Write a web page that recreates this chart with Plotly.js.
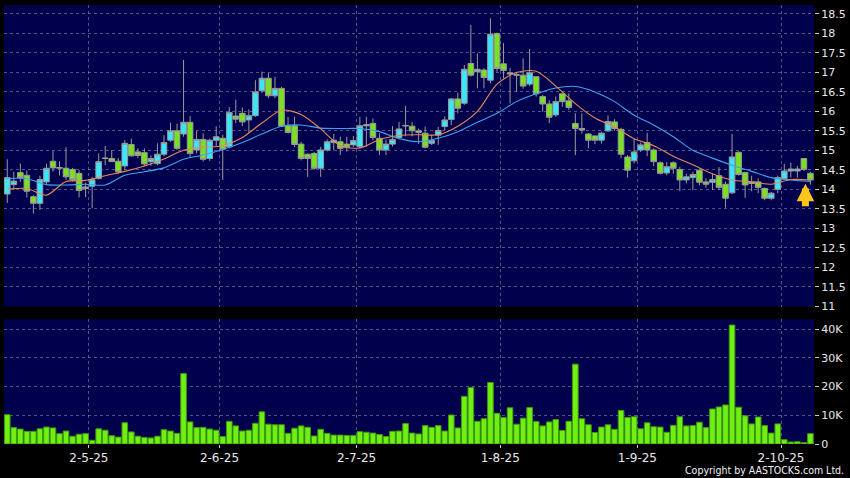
<!DOCTYPE html>
<html>
<head>
<meta charset="utf-8">
<script src="https://cdn.plot.ly/plotly-3.0.1.min.js"></script>
<style>
html,body{margin:0;padding:0;background:#000;}
#chart{width:850px;height:478px;}
</style>
</head>
<body>
<div id="chart"></div>
<script>
// ---- Data (daily candles, Apr–Oct 2025) ----
const opens = [
13.88,14.12,14.43,14.36,13.81,13.64,14.19,14.72,14.54,14.54,
14.51,14.41,14.02,14.08,14.28,14.79,14.79,14.72,14.60,15.15,
14.96,14.94,14.71,14.66,14.90,15.26,15.50,15.42,15.72,15.01,
15.28,14.79,15.26,15.31,15.09,15.88,15.95,15.78,15.89,16.53,
16.85,16.40,16.59,15.63,15.63,15.16,14.90,14.92,14.54,15.01,
15.20,15.22,15.16,15.14,15.09,15.66,15.69,15.31,15.01,15.16,
15.33,15.64,15.62,15.50,15.44,15.18,15.39,15.61,15.79,16.32,
16.21,17.23,17.02,17.06,16.80,18.00,17.22,16.99,16.93,16.93,
16.70,16.89,16.38,16.19,15.91,16.45,16.27,15.69,15.56,15.42,
15.37,15.26,15.50,15.73,15.54,14.83,14.73,15.01,15.20,15.01,
14.68,14.42,14.68,14.51,14.24,14.30,14.49,14.19,14.18,14.35,
14.13,13.91,14.95,14.43,14.19,14.19,14.02,13.77,14.00,14.28,
14.47,14.47,14.79,14.41];
const highs = [
14.77,14.45,14.66,14.48,13.85,14.35,14.66,14.99,14.72,15.08,
14.55,14.49,14.17,14.32,14.92,15.11,15.01,14.80,15.26,15.30,
15.05,15.05,14.87,15.18,15.39,15.71,15.69,17.32,15.88,15.50,
15.44,15.30,15.62,15.40,16.11,16.30,16.10,16.05,16.80,17.02,
16.99,16.89,16.63,15.86,15.86,15.22,14.92,14.96,15.09,15.28,
15.42,15.35,15.35,15.37,15.86,15.86,15.82,15.44,15.28,15.62,
15.73,16.14,15.73,15.56,15.61,15.40,15.60,15.87,16.34,16.48,
17.19,18.22,17.49,17.11,18.39,18.02,17.75,17.11,17.02,17.36,
17.60,16.89,16.42,16.29,16.38,16.46,16.46,15.95,15.95,15.44,
15.37,15.48,15.90,15.80,15.58,14.88,15.30,15.20,15.45,15.05,
14.72,14.70,14.72,14.58,14.40,14.45,14.53,14.28,14.40,14.57,
14.20,15.42,14.97,14.45,14.35,14.28,14.05,13.93,14.35,14.65,
14.68,14.60,14.80,14.45];
const lows = [
13.65,13.98,14.19,13.79,13.38,13.47,14.11,14.45,14.35,14.24,
14.20,13.79,13.80,13.52,14.25,14.62,14.70,14.40,14.50,14.84,
14.80,14.60,14.60,14.62,14.85,15.22,15.01,15.35,14.83,14.92,
14.71,14.73,15.10,14.24,15.05,15.70,15.62,15.46,15.86,16.47,
16.34,16.34,15.60,15.43,15.09,14.74,14.32,14.50,14.32,14.97,
15.00,14.88,14.97,15.09,15.05,15.09,15.26,14.88,14.88,15.10,
15.30,15.36,15.36,15.16,15.05,15.14,15.14,15.52,15.65,15.95,
16.17,16.89,16.59,16.59,16.72,17.02,16.85,16.20,16.50,16.58,
16.65,16.38,15.99,15.70,15.86,16.12,16.04,14.88,15.43,15.05,
15.16,15.17,15.47,15.50,14.80,14.30,14.66,14.96,14.85,14.60,
14.38,14.36,14.40,13.95,14.15,13.98,14.10,14.04,13.98,13.98,
13.53,13.88,14.35,13.78,13.95,13.90,13.72,13.72,13.90,14.25,
14.30,14.30,14.47,14.12];
const closes = [
14.30,14.21,14.30,13.95,13.64,14.25,14.54,14.55,14.56,14.32,
14.25,13.97,14.06,14.25,14.71,14.80,14.71,14.45,15.18,14.86,
14.87,14.65,14.79,14.90,15.20,15.50,15.05,15.72,14.92,15.28,
14.77,15.26,15.35,15.03,15.97,15.80,15.73,15.89,16.50,16.85,
16.40,16.59,15.62,15.46,15.15,14.79,14.79,14.54,15.01,15.22,
15.26,15.05,15.08,15.25,15.63,15.63,15.33,15.01,15.16,15.28,
15.55,15.63,15.50,15.46,15.08,15.25,15.51,15.78,16.32,16.08,
17.08,16.93,17.08,16.87,17.98,17.10,17.05,16.96,16.94,16.65,
16.99,16.45,16.19,15.85,16.25,16.25,16.10,15.56,15.52,15.26,
15.26,15.44,15.74,15.56,14.90,14.49,14.96,15.14,15.01,14.71,
14.41,14.58,14.54,14.24,14.32,14.38,14.18,14.13,14.25,14.05,
13.77,14.83,14.38,14.11,14.15,14.05,13.77,13.90,14.30,14.47,
14.52,14.52,14.51,14.24];
const volumesK = [
10.2,5.7,5.2,4.4,4.4,5.3,5.9,5.6,3.6,4.5,
2.7,3.4,3.6,1.3,5.3,4.8,2.9,2.4,7.4,4.2,
2.7,2.3,2.1,2.7,5.0,4.5,3.7,24.5,7.7,5.7,
5.8,5.2,4.8,2.6,7.9,6.3,4.5,4.8,7.2,11.2,
6.9,6.7,6.7,3.7,5.5,6.3,5.8,2.8,5.1,3.7,
3.1,3.1,3.0,3.0,4.3,4.1,3.8,3.3,2.6,4.4,
4.5,7.1,3.8,3.5,6.4,5.8,6.4,4.5,10.1,5.6,
16.6,19.7,7.9,8.8,21.4,10.7,9.2,12.6,6.9,9.0,
12.7,7.8,6.3,7.7,8.5,4.7,7.9,27.8,8.8,6.7,
4.0,5.9,6.7,5.1,11.7,9.2,9.5,5.3,7.4,6.0,
5.9,4.1,6.5,9.5,6.3,6.4,7.6,5.7,12.2,12.9,
13.6,41.4,12.8,9.8,7.0,9.4,6.4,3.8,7.0,1.5,
0.7,0.8,0.5,3.6];

const maIdx  = [0,3,6,9,12,15,18,21,24,27,30,33,36,39,42,45,48,51,54,57,60,63,66,69,72,75,78,81,84,87,90,93,96,99,102,105,108,111,114,117,120,123];
const maFast = [14.00,14.02,13.85,14.20,14.23,14.35,14.46,14.60,14.78,15.00,15.08,15.12,15.33,15.70,16.03,15.92,15.55,15.12,15.06,15.28,15.38,15.40,15.40,15.62,16.00,16.70,17.00,17.03,16.65,16.20,15.83,15.60,15.30,15.12,14.85,14.63,14.40,14.24,14.19,14.13,14.25,14.24];
const maSlow = [14.28,14.27,14.12,14.11,14.13,14.11,14.36,14.45,14.55,14.77,14.88,15.02,15.20,15.42,15.62,15.65,15.57,15.56,15.56,15.48,15.30,15.22,15.31,15.48,15.72,15.95,16.25,16.45,16.60,16.64,16.50,16.25,15.90,15.65,15.35,15.00,14.80,14.62,14.46,14.30,14.24,14.20];

// Month boundaries (index of first trading day of the month) and labels
const monthStartIdx = [13, 33, 54, 76, 97, 119];
const monthLabels = ['2-5-25','2-6-25','2-7-25','1-8-25','1-9-25','2-10-25'];
const volTickVals = [0, 10000, 20000, 30000, 40000];
const volTickText = ['0','10K','20K','30K','40K'];

// ---- Build chart ----
const idx = opens.map((_, i) => i);
const gridTicks = monthStartIdx.map(i => i - 0.5);
const last = opens.length - 1;

const gridColor = 'rgba(150,150,185,0.55)';
const axisFont = {family: 'DejaVu Sans, sans-serif', size: 11, color: '#e8e8e8'};

const traces = [
  {
    type: 'candlestick', x: idx, open: opens, high: highs, low: lows, close: closes,
    xaxis: 'x', yaxis: 'y', whiskerwidth: 0,
    increasing: {fillcolor: '#3ae6fa', line: {color: '#9a9a9a', width: 1}},
    decreasing: {fillcolor: '#78e21e', line: {color: '#9a9a9a', width: 1}},
    hoverinfo: 'skip'
  },
  {
    type: 'scatter', mode: 'lines', x: maIdx, y: maSlow, xaxis: 'x', yaxis: 'y',
    line: {color: '#3fa2f0', width: 1.1, shape: 'spline', smoothing: 0.8}, hoverinfo: 'skip'
  },
  {
    type: 'scatter', mode: 'lines', x: maIdx, y: maFast, xaxis: 'x', yaxis: 'y',
    line: {color: '#e3895a', width: 1.1, shape: 'spline', smoothing: 0.8}, hoverinfo: 'skip'
  },
  {
    type: 'bar', x: idx, y: volumesK.map(v => v * 1000), xaxis: 'x2', yaxis: 'y2',
    marker: {color: '#70f012', line: {color: '#3d9a0c', width: 1}}, hoverinfo: 'skip'
  }
];

const layout = {
  width: 850, height: 478,
  paper_bgcolor: '#000000', plot_bgcolor: '#00004c',
  margin: {l: 4, r: 36, t: 5, b: 34},
  showlegend: false, hovermode: false,
  boxgap: 0.14, boxgroupgap: 0, bargap: 0.14,
  font: axisFont,
  xaxis: {
    domain: [0, 1], anchor: 'y', range: [-0.5, 123.55],
    tickmode: 'array', tickvals: gridTicks, ticktext: monthLabels,
    showticklabels: false, ticks: '',
    showgrid: true, gridcolor: gridColor, griddash: 'dot', gridwidth: 1,
    zeroline: false, showline: false, rangeslider: {visible: false}
  },
  yaxis: {
    domain: [0.313, 1], anchor: 'x', side: 'right', range: [10.99, 18.73],
    tick0: 11, dtick: 0.5, ticks: 'outside', ticklen: 4, tickcolor: '#cccccc',
    showgrid: true, gridcolor: gridColor, griddash: 'dot', gridwidth: 1,
    zeroline: false, showline: false, tickfont: axisFont
  },
  xaxis2: {
    domain: [0, 1], anchor: 'y2', matches: 'x',
    tickmode: 'array', tickvals: gridTicks, ticktext: monthLabels,
    ticks: 'outside', ticklen: 3, tickcolor: '#cccccc',
    showgrid: true, gridcolor: gridColor, griddash: 'dot', gridwidth: 1,
    zeroline: false, showline: false,
    tickfont: {family: 'DejaVu Sans, sans-serif', size: 12, color: '#e8e8e8'}
  },
  yaxis2: {
    domain: [0, 0.284], anchor: 'x2', side: 'right', range: [0, 43400],
    tickmode: 'array', tickvals: volTickVals, ticktext: volTickText,
    ticks: 'outside', ticklen: 4, tickcolor: '#cccccc',
    showgrid: true, gridcolor: gridColor, griddash: 'dot', gridwidth: 1,
    zeroline: false, showline: false, tickfont: axisFont
  },
  annotations: [
    {
      xref: 'x', yref: 'y', x: last, y: lows[last] + 0.02, xshift: -5,
      ax: 0, ay: 24, showarrow: true, arrowhead: 2, arrowsize: 0.5, arrowwidth: 7,
      arrowcolor: '#ffc61a', text: ''
    },
    {
      xref: 'paper', yref: 'paper', x: 1.0395, y: -0.06, xanchor: 'right', yanchor: 'middle',
      showarrow: false, text: 'Copyright by AASTOCKS.com Ltd.',
      font: {family: 'DejaVu Sans Condensed, DejaVu Sans, sans-serif', size: 10.5, color: '#f0f0f0'}
    }
  ]
};

Plotly.newPlot('chart', traces, layout, {staticPlot: true, displayModeBar: false});
</script>
</body>
</html>
